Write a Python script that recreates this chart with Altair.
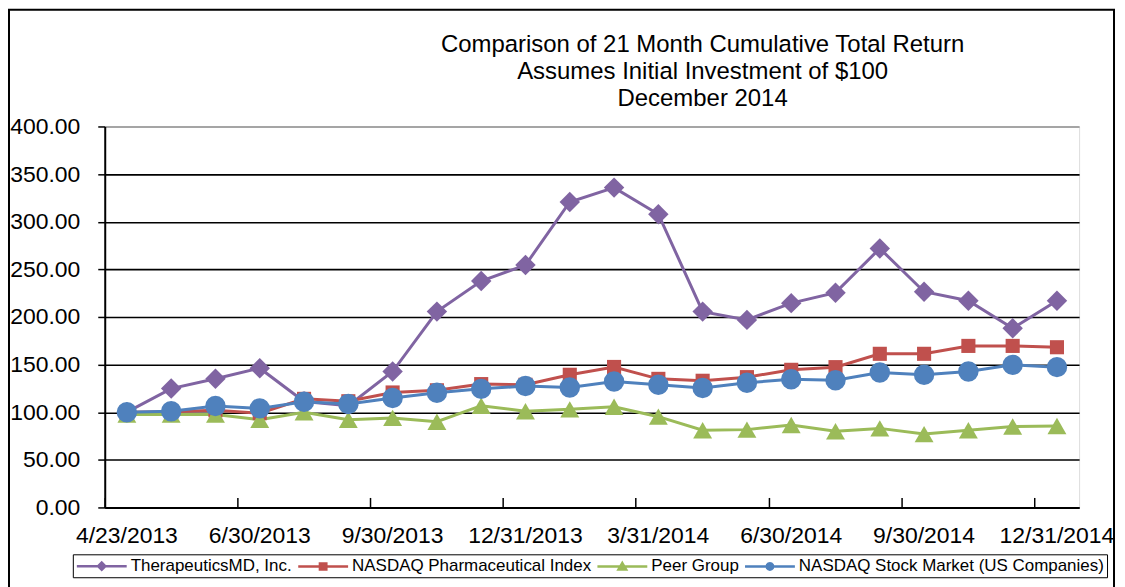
import altair as alt
import pandas as pd

# ---------------- data ----------------
dates = ["4/23/2013", "4/30/2013", "5/31/2013", "6/30/2013", "7/31/2013", "8/31/2013",
         "9/30/2013", "10/31/2013", "11/30/2013", "12/31/2013", "1/31/2014", "2/28/2014",
         "3/31/2014", "4/30/2014", "5/31/2014", "6/30/2014", "7/31/2014", "8/31/2014",
         "9/30/2014", "10/31/2014", "11/30/2014", "12/31/2014"]

therapeutics = [100, 124.8, 135.1, 146.2, 111.3, 106.8, 142.7, 205.6, 237.7, 254.5, 320.7,
                335.8, 307.9, 205.6, 196.9, 214.5, 225.5, 271.9, 226.5, 217.1, 188.1, 217.1]
pharma = [100, 100.5, 102, 99, 114, 111.5, 120.7, 123, 129.5, 128.8, 139.3,
          147.5, 135, 133, 136.8, 144.5, 147.3, 161.3, 161.3, 169.6, 169.6, 168.2]
peer = [97.5, 97.5, 97.5, 92, 100, 92, 94, 90, 106.8, 101, 103,
        105.7, 95.3, 81, 81.7, 86.5, 80, 83, 77, 81, 85, 85.5]
nasdaq = [100, 101, 106.5, 104, 111, 108.5, 115, 120.5, 124.5, 127.5, 126,
          132.3, 128.8, 125.5, 131, 134.5, 133.5, 141.7, 139.3, 142.7, 149.7, 147.3]

series_names = ["TherapeuticsMD, Inc.", "NASDAQ Pharmaceutical Index", "Peer Group",
                "NASDAQ Stock Market (US Companies)"]
y_ticks = [0, 50, 100, 150, 200, 250, 300, 350, 400]
label_dates = dates[::3]
title_lines = ["Comparison  of 21 Month Cumulative  Total Return",
               "Assumes Initial Investment  of $100",
               "December 2014"]

# ---------------- styles ----------------
colors = ["#8064A2", "#C0504D", "#9BBB59", "#4F81BD"]
shapes = ["diamond", "square", "triangle-up", "circle"]
sizes = [420, 200, 360, 420]
# legend symbols: a short line with a small marker in its middle (unit = half of sqrt(symbolSize))
_circle = "M-1.54,0L-1.59,-0.2L-1.74,-0.35L-1.94,-0.4L-2.14,-0.35L-2.29,-0.2L-2.34,0L-2.29,0.2L-2.14,0.35L-1.94,0.4L-1.74,0.35L-1.59,0.2Z"
legend_paths = [
    "M-5.06,0H1.19M-2.39,0L-1.94,-0.45L-1.49,0L-1.94,0.45Z",
    "M-5.06,0H1.19M-2.34,-0.38H-1.54V0.38H-2.34Z",
    "M-5.06,0H1.19M-1.94,-0.42L-1.46,0.4L-2.42,0.4Z",
    "M-5.06,0H1.19" + _circle,
]
FONT = "Liberation Sans"
W, H = 977, 382

rows = []
for name, vals in zip(series_names, [therapeutics, pharma, peer, nasdaq]):
    for i, (d, v) in enumerate(zip(dates, vals)):
        rows.append({"series": name, "date": d, "value": v, "order": i})
df = pd.DataFrame(rows)

xscale = alt.Scale(type="band", domain=dates, paddingInner=0, paddingOuter=0)
yscale = alt.Scale(domain=[0, 400], nice=False, zero=True)
# colour scale for lines/markers (domain listed in reverse so it is not merged with the legend scales)
cscale = alt.Scale(domain=series_names[::-1], range=colors[::-1])

y_axis = alt.Axis(values=y_ticks, format=".2f", labelFont=FONT, labelFontSize=23,
                  labelColor="black", labelPadding=18, tickSize=7, tickColor="black",
                  tickWidth=1.5, domainColor="black", domainWidth=2, grid=True,
                  gridColor=alt.condition("datum.value == 400", alt.value("#8c8c8c"), alt.value("black")),
                  gridWidth=1.6, title=None)
y_enc = alt.Y("value:Q", scale=yscale, axis=y_axis)

main_x_axis = alt.Axis(values=label_dates, labelFont=FONT, labelFontSize=23, labelColor="black",
                       labelPadding=17, labelAngle=0, labelOverlap=False, ticks=False,
                       domainColor="black", domainWidth=2, grid=False, title=None)
tick_x_axis = alt.Axis(values=label_dates, orient="top", offset=-H, labels=False, domain=False,
                       ticks=True, tickSize=10, tickColor="black", tickWidth=1.5,
                       bandPosition=0, grid=False, title=None)

base = alt.Chart(df)

lines = base.mark_line(strokeWidth=3).encode(
    x=alt.X("date:N", scale=xscale, sort=dates, axis=main_x_axis),
    y=y_enc,
    color=alt.Color("series:N", scale=cscale, legend=None),
    order=alt.Order("order:Q"),
)

point_layers = []
for k, (name, shp, sz) in enumerate(zip(series_names, shapes, sizes)):
    ax = tick_x_axis if k == 0 else None
    point_layers.append(
        base.transform_filter(alt.datum.series == name)
        .mark_point(filled=True, shape=shp, size=sz, opacity=1)
        .encode(
            x=alt.X("date:N", scale=xscale, sort=dates, axis=ax),
            y=y_enc,
            color=alt.Color("series:N", scale=cscale, legend=None),
        )
    )

legend_def = alt.Legend(
    orient="none", legendX=-32, legendY=429, direction="horizontal",
    strokeColor="black", padding=2, title=" ", titleOrient="left", titlePadding=33,
    titleFontSize=10, labelFont=FONT, labelFontSize=17, labelColor="black", labelLimit=500,
    symbolSize=256, symbolStrokeWidth=2.5, symbolOpacity=1, labelOffset=4, columnPadding=1,
)
legend_layer = base.mark_point(filled=True, opacity=0, size=1).encode(
    fill=alt.Fill("series:N", scale=alt.Scale(domain=series_names, range=colors), legend=legend_def),
    stroke=alt.Stroke("series:N", scale=alt.Scale(domain=series_names, range=colors), legend=legend_def),
    shape=alt.Shape("series:N", scale=alt.Scale(domain=series_names, range=legend_paths), legend=legend_def),
)

frame = alt.Chart(pd.DataFrame({"k": [0]})).mark_rect(
    filled=False, stroke="black", strokeWidth=2
).encode(x=alt.value(-96), x2=alt.value(1012), y=alt.value(-117), y2=alt.value(478))

chart = alt.layer(lines, *point_layers, legend_layer, frame).resolve_axis(
    x="independent"
).properties(
    width=W, height=H,
    autosize=alt.AutoSizeParams(type="none"),
    padding={"left": 97, "top": 118, "right": 38, "bottom": 81},
    title=alt.Title(title_lines, font=FONT, fontSize=24, fontWeight="normal", color="black",
                    lineHeight=27, anchor="middle", frame="group", dx=111, dy=102, offset=0),
).configure_view(stroke="#8c8c8c", strokeWidth=1.5).configure(background="white")

chart.save("out.html", embed_options={"renderer": "svg", "actions": False})
